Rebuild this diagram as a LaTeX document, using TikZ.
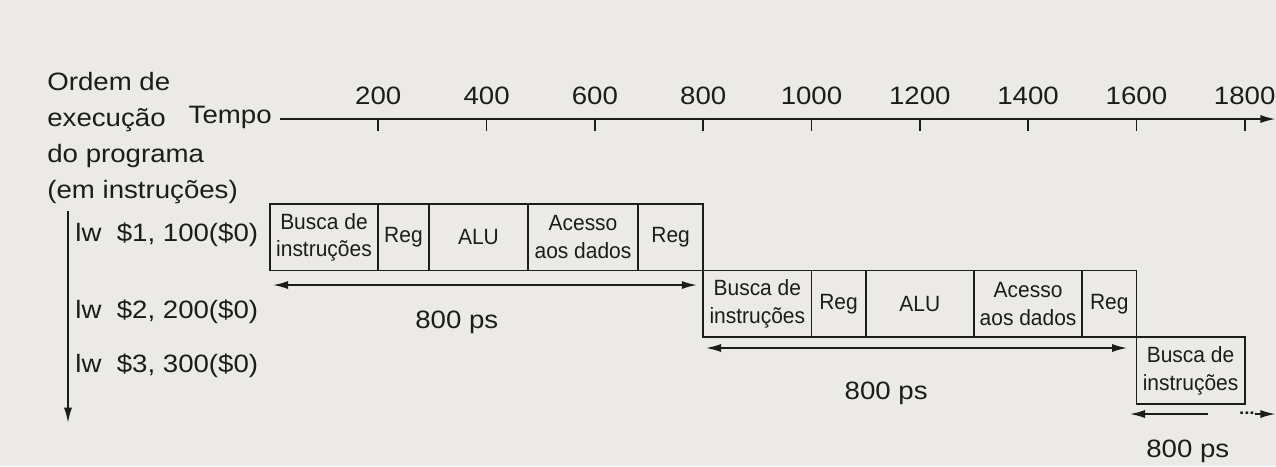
\documentclass[tikz,border=0pt]{standalone}
\usepackage{fontspec}
\setmainfont{Liberation Sans}[FakeStretch=1.1]
\newfontfamily\cellfont{Liberation Sans}[FakeStretch=0.95]
\usetikzlibrary{positioning,arrows.meta}
\definecolor{paper}{RGB}{236,234,231}
\definecolor{ink}{RGB}{28,28,28}

\begin{document}
\begin{tikzpicture}[every node/.style={font=\fontsize{13.2}{18.9}\selectfont,text=ink,inner sep=0pt},
  stage/.style={draw=ink,line width=0.9pt,minimum height=1.23cm,inner sep=0pt,outer sep=0pt,align=center,font=\cellfont\fontsize{11.6}{14.7}\selectfont},
  rule/.style={draw=ink,line width=0.9pt},
  tip/.style={rule,-{Latex[length=2.8mm,width=1.5mm]}},
  dimline/.style={rule,{Latex[length=2.8mm,width=1.5mm]}-{Latex[length=2.8mm,width=1.5mm]}}]
  \fill[paper] (-4.986,2.198) rectangle (18.578,-6.408);
  \useasboundingbox (-4.986,2.198) rectangle (18.578,-6.408);
  % time axis
  \node[anchor=north west,align=left] (order) at (-4.118,0.868) {Ordem de\\execução\\do programa\\(em instruções)};
  \node[anchor=base east] (tempo) at (0.037,-0.074) {Tempo};
  \coordinate (axstart) at (0.185,0); \coordinate (axend) at (18.57,0);
  \draw[tip] (axstart) -- (axend);
  \foreach \k in {1,...,9} {
    \draw[rule] (2*\k,0) -- (2*\k,-0.22);
    \node[anchor=base] (t\k) at (2*\k,0.277) {\the\numexpr200*\k\relax};
  }
  % program order
  \coordinate (ordtop) at (-3.73,-1.70); \coordinate (ordbot) at (-3.73,-5.61);
  \draw[tip] (ordtop) -- (ordbot);
  \node[anchor=base west] (lw1) at (-3.601,-2.271) {lw~~\$1, 100(\$0)};
  \node[anchor=base west] (lw2) at (-3.601,-3.675) {lw~~\$2, 200(\$0)};
  \node[anchor=base west] (lw3) at (-3.601,-4.672) {lw~~\$3, 300(\$0)};
  % first instruction
  \node[stage,minimum width=1.994cm,anchor=north west] (if1) at (0,-1.57) {Busca de\\instruções};
  \node[stage,minimum width=0.942cm,right=0pt of if1] (rd1) {Reg};
  \node[stage,minimum width=1.829cm,right=0pt of rd1] (alu1) {ALU};
  \node[stage,minimum width=2.031cm,right=0pt of alu1] (mem1) {Acesso\\aos dados};
  \node[stage,minimum width=1.204cm,right=0pt of mem1] (wb1) {Reg};
  % second instruction
  \node[stage,minimum width=2cm,anchor=north west] (if2) at (8,-2.80) {Busca de\\instruções};
  \node[stage,minimum width=1cm,right=0pt of if2] (rd2) {Reg};
  \node[stage,minimum width=2cm,right=0pt of rd2] (alu2) {ALU};
  \node[stage,minimum width=2cm,right=0pt of alu2] (mem2) {Acesso\\aos dados};
  \node[stage,minimum width=1cm,right=0pt of mem2] (wb2) {Reg};
  % third instruction
  \node[stage,minimum width=2cm,anchor=north west] (if3) at (16,-4.03) {Busca de\\instruções};
  % latencies
  \coordinate (a1s) at (0.055,-3.066); \coordinate (a1e) at (7.885,-3.066);
  \coordinate (a2s) at (8.05,-4.229); \coordinate (a2e) at (15.83,-4.229);
  \coordinate (a3s) at (15.88,-5.448); \coordinate (a3e) at (17.32,-5.448); \coordinate (a3r) at (18.57,-5.448);
  \draw[dimline] (a1s) -- (a1e); \draw[dimline] (a2s) -- (a2e);
  \draw[tip] (a3e) -- (a3s);
  \node[font=\bfseries\fontsize{9}{9}\selectfont] (more) at (18.04,-5.43) {...};
  \draw[tip] (more.east |- a3r) -- (a3r);
  \node[anchor=base] (ps1) at (3.45,-3.86) {800 ps};
  \node[anchor=base] (ps2) at (11.38,-5.18) {800 ps};
  \node[anchor=base] (ps3) at (16.95,-6.242) {800 ps};
\end{tikzpicture}
\end{document}
